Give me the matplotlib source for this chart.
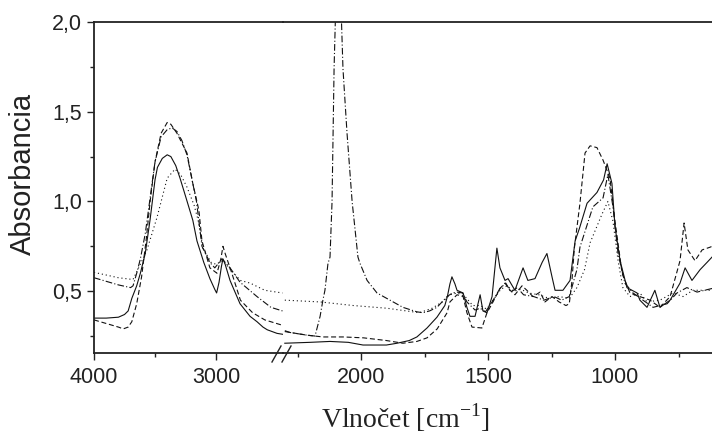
import matplotlib
matplotlib.use("Agg")
import matplotlib.pyplot as plt
from matplotlib.lines import Line2D
from matplotlib.ticker import FixedLocator, FuncFormatter

plt.rcParams["mathtext.fontset"] = "custom"
plt.rcParams["mathtext.rm"] = "Liberation Serif"

# ---------------- data (wavenumber cm-1, absorbance) ----------------
# high-wavenumber segment (4000 - 2450)
wn_hi_solid = [4000, 3900, 3800, 3750, 3720, 3690, 3650, 3620, 3580, 3540, 3500, 3480, 3440, 3400,
               3370, 3330, 3295, 3250, 3190, 3156, 3100, 3050, 3010, 2995, 2975, 2955, 2943, 2925,
               2885, 2860, 2803, 2721, 2664, 2615, 2580, 2500, 2455]
a_hi_solid = [0.35, 0.35, 0.355, 0.37, 0.39, 0.46, 0.53, 0.60, 0.71, 0.90, 1.12, 1.19, 1.24, 1.26,
              1.25, 1.20, 1.13, 1.03, 0.895, 0.78, 0.66, 0.57, 0.51, 0.49, 0.55, 0.64, 0.68, 0.65,
              0.56, 0.52, 0.43, 0.36, 0.33, 0.30, 0.285, 0.265, 0.26]

wn_hi_dash = [4000, 3900, 3800, 3760, 3720, 3690, 3650, 3610, 3570, 3540, 3500, 3450, 3400, 3370,
              3320, 3238, 3190, 3140, 3115, 3050, 2992, 2960, 2943, 2925, 2870, 2800, 2700, 2600, 2455]
a_hi_dash = [0.34, 0.32, 0.30, 0.29, 0.30, 0.33, 0.43, 0.58, 0.80, 1.00, 1.22, 1.38, 1.44, 1.43,
             1.38, 1.27, 1.10, 0.95, 0.78, 0.63, 0.60, 0.68, 0.75, 0.71, 0.60, 0.45, 0.38, 0.34, 0.31]

wn_hi_dashdot = [4000, 3900, 3800, 3700, 3680, 3650, 3620, 3580, 3540, 3500, 3450, 3400, 3360, 3320,
                 3280, 3238, 3160, 3115, 3050, 3010, 2950, 2885, 2803, 2664, 2550, 2455]
a_hi_dashdot = [0.575, 0.555, 0.535, 0.52, 0.53, 0.60, 0.68, 0.82, 1.02, 1.22, 1.36, 1.40, 1.41, 1.39,
                1.34, 1.26, 1.00, 0.75, 0.66, 0.63, 0.68, 0.63, 0.55, 0.47, 0.41, 0.39]

wn_hi_dot = [4000, 3900, 3800, 3680, 3620, 3566, 3484, 3400, 3336, 3290, 3238, 3180, 3148, 3107,
             3040, 3000, 2943, 2880, 2800, 2720, 2600, 2455]
a_hi_dot = [0.605, 0.59, 0.575, 0.565, 0.65, 0.73, 0.91, 1.13, 1.18, 1.15, 1.08, 0.98, 0.90, 0.74,
            0.66, 0.65, 0.67, 0.62, 0.56, 0.545, 0.505, 0.49]

# low-wavenumber segment (2300 - 618)
wn_lo_solid = [2300, 2200, 2122, 2050, 1992, 1900, 1858, 1810, 1780, 1740, 1701, 1670, 1660, 1650,
               1642, 1630, 1622, 1598, 1583, 1571, 1551, 1531, 1520, 1504, 1484, 1465, 1453, 1433,
               1421, 1394, 1362, 1343, 1315, 1287, 1268, 1248, 1236, 1205, 1177, 1157, 1140, 1110,
               1071, 1045, 1031, 1012, 1000, 980, 953, 913, 902, 874, 843, 823, 783, 744, 724, 697,
               665, 638, 618]
a_lo_solid = [0.21, 0.215, 0.22, 0.215, 0.20, 0.20, 0.21, 0.225, 0.245, 0.295, 0.355, 0.42, 0.47, 0.54,
              0.58, 0.54, 0.505, 0.49, 0.41, 0.36, 0.36, 0.48, 0.39, 0.38, 0.47, 0.74, 0.63, 0.56,
              0.57, 0.505, 0.63, 0.56, 0.57, 0.66, 0.71, 0.58, 0.505, 0.505, 0.56, 0.78, 0.85, 0.99,
              1.05, 1.12, 1.21, 1.10, 0.86, 0.67, 0.52, 0.49, 0.45, 0.41, 0.505, 0.41, 0.45, 0.545,
              0.63, 0.56, 0.62, 0.66, 0.69]

wn_lo_dash = [2300, 2213, 2150, 2070, 1990, 1900, 1835, 1780, 1740, 1700, 1661, 1650, 1622, 1598,
              1583, 1563, 1524, 1504, 1484, 1453, 1433, 1413, 1394, 1366, 1347, 1323, 1295, 1276,
              1248, 1220, 1193, 1180, 1170, 1160, 1138, 1118, 1098, 1071, 1047, 1020, 1000, 972,
              941, 902, 862, 823, 783, 744, 728, 713, 685, 657, 626, 618]
a_lo_dash = [0.275, 0.255, 0.245, 0.245, 0.24, 0.225, 0.21, 0.22, 0.24, 0.29, 0.38, 0.44, 0.48, 0.47,
             0.38, 0.30, 0.295, 0.38, 0.43, 0.515, 0.545, 0.505, 0.48, 0.53, 0.505, 0.47, 0.495, 0.44,
             0.47, 0.44, 0.42, 0.43, 0.55, 0.74, 0.99, 1.27, 1.31, 1.30, 1.23, 1.13, 0.89, 0.60,
             0.49, 0.47, 0.45, 0.41, 0.47, 0.67, 0.88, 0.73, 0.67, 0.73, 0.745, 0.75]

wn_lo_dashdot = [2300, 2280, 2213, 2181, 2161, 2150, 2142, 2130, 2122, 2114, 2106, 2090, 2071, 2055,
                 2035, 2012, 2004, 1976, 1937, 1886, 1835, 1780, 1756, 1730, 1701, 1661, 1640, 1622,
                 1600, 1583, 1551, 1531, 1510, 1484, 1453, 1430, 1410, 1385, 1360, 1320, 1280, 1240,
                 1210, 1180, 1150, 1138, 1087, 1047, 1028, 1008, 988, 961, 929, 890, 850, 795, 756,
                 717, 677, 618]
a_lo_dashdot = [0.28, 0.27, 0.255, 0.25, 0.36, 0.45, 0.505, 0.655, 0.69, 1.00, 1.74, 2.60, 1.74, 1.38,
                1.00, 0.69, 0.655, 0.56, 0.49, 0.45, 0.41, 0.385, 0.38, 0.39, 0.41, 0.47, 0.49, 0.495,
                0.49, 0.44, 0.395, 0.405, 0.385, 0.44, 0.515, 0.545, 0.495, 0.52, 0.48, 0.47, 0.45, 0.47,
                0.45, 0.47, 0.62, 0.745, 0.97, 1.02, 1.15, 0.97, 0.71, 0.545, 0.49, 0.45, 0.41, 0.43, 0.49,
                0.52, 0.495, 0.515]

wn_lo_dot = [2300, 2160, 2030, 1898, 1770, 1720, 1680, 1650, 1620, 1590, 1560, 1530, 1505, 1480,
             1450, 1425, 1400, 1370, 1340, 1300, 1260, 1220, 1180, 1150, 1120, 1098, 1051, 1028,
             1008, 988, 969, 941, 902, 874, 823, 772, 732, 693, 618]
a_lo_dot = [0.45, 0.44, 0.42, 0.405, 0.38, 0.405, 0.44, 0.48, 0.49, 0.47, 0.42, 0.42, 0.40, 0.45,
            0.51, 0.53, 0.50, 0.51, 0.49, 0.48, 0.46, 0.47, 0.46, 0.52, 0.62, 0.77, 0.93, 1.00,
            0.89, 0.67, 0.52, 0.47, 0.49, 0.44, 0.45, 0.49, 0.47, 0.505, 0.505]

y_ticks = [0.5, 1.0, 1.5, 2.0]
y_minor = [0.25, 0.75, 1.25, 1.75]
x_ticks_hi = [4000, 3000]
x_minor_hi = [3500]
x_ticks_lo = [2000, 1500, 1000]
x_minor_lo = [2250, 1750, 1250, 750]

# ---------------- figure ----------------
W, H = 712, 437
fig = plt.figure(figsize=(W / 100, H / 100), dpi=100)

left_px, break_px, right_px = 94, 283, 712
top_px, bot_px = 22, 353
y0 = 1 - bot_px / H
hgt = (bot_px - top_px) / H
ax1 = fig.add_axes([left_px / W, y0, (break_px - left_px) / W, hgt])
ax2 = fig.add_axes([break_px / W, y0, (right_px - break_px) / W, hgt])

styles = {
    "solid": dict(ls="-"),
    "dash": dict(ls=(0, (4.5, 2.5))),
    "dashdot": dict(ls=(0, (6, 2, 1, 2))),
    "dot": dict(ls=(0, (1, 2.6))),
}
lw = 0.8
col = "#111111"
for ax, data in [
    (ax1, [(wn_hi_solid, a_hi_solid, "solid"), (wn_hi_dash, a_hi_dash, "dash"),
           (wn_hi_dashdot, a_hi_dashdot, "dashdot"), (wn_hi_dot, a_hi_dot, "dot")]),
    (ax2, [(wn_lo_solid, a_lo_solid, "solid"), (wn_lo_dash, a_lo_dash, "dash"),
           (wn_lo_dashdot, a_lo_dashdot, "dashdot"), (wn_lo_dot, a_lo_dot, "dot")]),
]:
    for x, y, s in data:
        ax.plot(x, y, color=col, lw=lw, **styles[s])

ylo = 0.5 - (bot_px - 291) / 180.0
for ax in (ax1, ax2):
    ax.set_ylim(ylo, 2.0)
    ax.set_facecolor("none")
    for sp in ax.spines.values():
        sp.set_color("#222222")
        sp.set_linewidth(1.3)

ax1.set_xlim(4000, 4000 - (break_px - left_px) / 0.122)
ax2.set_xlim(2000 + (361 - break_px) / 0.254, 2000 - (right_px - 361) / 0.254)

ax1.spines["right"].set_visible(False)
ax2.spines["left"].set_visible(False)
ax2.spines["right"].set_visible(False)

fmt = FuncFormatter(lambda v, p: f"{v:.1f}".replace(".", ","))
ax1.yaxis.set_major_locator(FixedLocator(y_ticks))
ax1.yaxis.set_minor_locator(FixedLocator(y_minor))
ax1.yaxis.set_major_formatter(fmt)
ax2.set_yticks([])
ax2.yaxis.set_minor_locator(FixedLocator([]))

ax1.xaxis.set_major_locator(FixedLocator(x_ticks_hi))
ax1.xaxis.set_minor_locator(FixedLocator(x_minor_hi))
ax2.xaxis.set_major_locator(FixedLocator(x_ticks_lo))
ax2.xaxis.set_minor_locator(FixedLocator(x_minor_lo))

for ax in (ax1, ax2):
    ax.tick_params(which="major", direction="out", length=5, width=1.0, color="#222222",
                   labelsize=15.5, labelcolor="#222222", pad=3.5)
    ax.tick_params(which="minor", direction="out", length=3, width=1.0, color="#222222")
    ax.tick_params(axis="x", which="major", pad=5)
    for lab in ax.get_xticklabels() + ax.get_yticklabels():
        lab.set_fontfamily("Liberation Sans")

# axis-break marks on the bottom axis
for dx in (0, 10):
    fig.add_artist(Line2D([(272 + dx) / W, (281 + dx) / W], [1 - 362 / H, 1 - 346 / H],
                          color="#222222", lw=1.0))

fig.text(23 / W, 1 - 174 / H, "Absorbancia", rotation=90, ha="center", va="center",
         fontsize=21, family="Liberation Sans", color="#222222")
fig.text(405 / W, 1 - 418 / H, r"Vlnočet [cm$^{\mathregular{-1}}$]", ha="center", va="center",
         fontsize=20, family="Liberation Serif", color="#222222")

fig.savefig("out.png", dpi=100)
